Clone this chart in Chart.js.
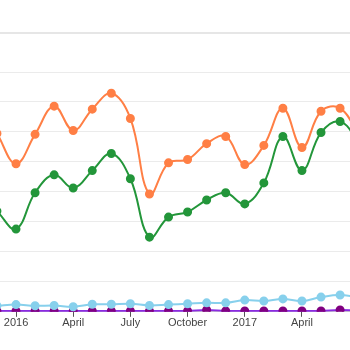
<!DOCTYPE html>
<html>
<head>
<meta charset="utf-8">
<script src="https://cdn.jsdelivr.net/npm/chart.js@4/dist/chart.umd.min.js"></script>
<style>
    html, body { margin: 0; padding: 0; background: #fff; overflow: hidden; }
    #wrap { position: relative; width: 350px; height: 350px; overflow: hidden; }
    #topline { position: absolute; left: 0; top: 32px; width: 350px; height: 2px; background: #e6e6e6; }
    #chart { position: absolute; left: -6px; top: 0; }
</style>
</head>
<body>
<div id="wrap">
    <div id="topline"></div>
    <canvas id="chart" width="362" height="350"></canvas>
</div>
<script>
    // meses (0 = jan 2016)
    const meses = [-1, 0, 1, 2, 3, 4, 5, 6, 7, 8, 9, 10, 11, 12, 13, 14, 15, 16, 17, 18];
    const tickPos = [0, 3, 6, 9, 12, 15];
    const tickLabels = ['2016', 'April', 'July', 'October', '2017', 'April'];

    const laranja = [59.5, 49.4, 59.2, 68.6, 60.5, 67.6, 72.9, 64.5, 39.3, 49.7, 50.8, 56.1, 58.5, 49.1, 55.5, 67.9, 54.8, 66.9, 67.9, 58.8];
    const verde = [33.6, 27.6, 39.7, 45.7, 41.3, 47.1, 52.8, 44.4, 24.9, 31.6, 33.3, 37.3, 39.7, 36.0, 43.0, 58.5, 47.1, 59.8, 63.5, 56.5];
    const azul = [2.0, 2.4, 2.0, 2.1, 1.7, 2.5, 2.5, 2.7, 2.1, 2.4, 2.7, 3.0, 3.0, 3.9, 3.6, 4.3, 3.6, 4.9, 5.6, 4.7];
    const roxo = [0.3, 0.3, 0.3, 0.3, 0.3, 0.3, 0.3, 0.3, 0.3, 0.3, 0.3, 0.6, 0.3, 0.3, 0.3, 0.3, 0.3, 0.3, 0.6, 0.3];

    const pts = (arr) => arr.map((v, i) => ({ x: meses[i], y: v }));

    function serie(arr, linha, ponto) {
        return {
            data: pts(arr),
            borderColor: linha,
            backgroundColor: ponto,
            pointBackgroundColor: ponto,
            pointBorderColor: ponto,
            pointRadius: 3.5,
            borderWidth: 2,
            tension: 0.4,
            fill: false,
            clip: 0
        };
    }

    Chart.defaults.font.family = '"Liberation Sans", Arial, sans-serif';

    new Chart(document.getElementById('chart'), {
        type: 'line',
        data: {
            datasets: [
                serie(laranja, '#ff7f45', '#ff7f45'),
                serie(verde, '#23963a', '#23963a'),
                serie(azul, '#87d0ec', '#87d0ec'),
                serie(roxo, '#8a2be2', '#800080')
            ]
        },
        options: {
            responsive: false,
            animation: false,
            layout: { padding: { top: 72, bottom: 20, left: 0, right: 0 } },
            plugins: { legend: { display: false }, tooltip: { enabled: false } },
            scales: {
                x: {
                    type: 'linear',
                    min: -0.84,
                    max: 17.52,
                    afterBuildTicks: (scale) => {
                        scale.ticks = tickPos.map(v => ({ value: v }));
                    },
                    ticks: {
                        autoSkip: false,
                        maxRotation: 0,
                        padding: 0,
                        color: '#444',
                        font: { size: 11 },
                        callback: (value) => tickLabels[tickPos.indexOf(value)]
                    },
                    grid: { drawOnChartArea: false, drawTicks: true, tickLength: 5, color: '#555' },
                    border: { display: true, color: '#ccc' }
                },
                y: {
                    min: 0,
                    max: 80,
                    ticks: { display: false, stepSize: 10 },
                    grid: { color: '#ebebeb', drawTicks: false },
                    border: { display: false }
                }
            }
        }
    });
</script>
</body>
</html>
